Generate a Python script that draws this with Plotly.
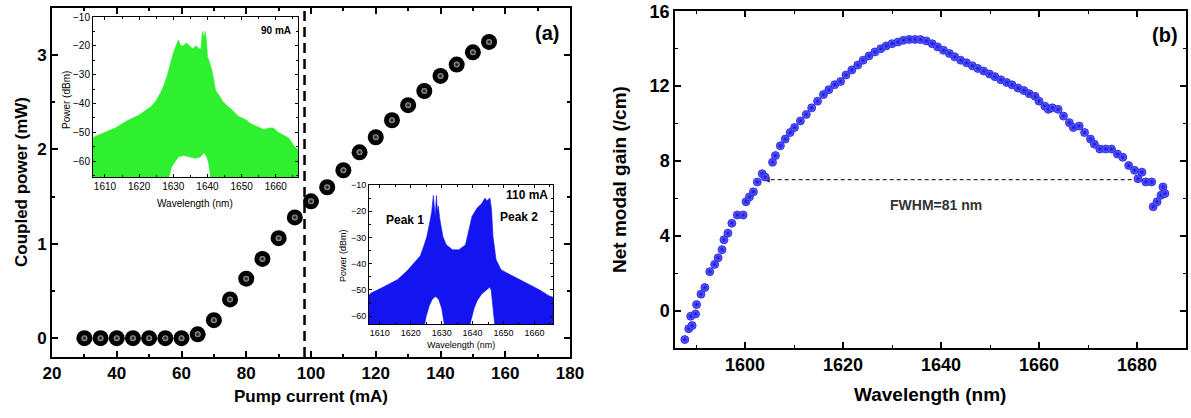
import plotly.graph_objects as go

FONT = "Liberation Sans, Arial, sans-serif"
W, H = 1191, 418

# ---------------- data: panel (a) main ----------------
pump_current = [30, 35, 40, 45, 50, 55, 60, 65, 70, 75, 80, 85, 90, 95, 100,
                105, 110, 115, 120, 125, 130, 135, 140, 145, 150, 155]
coupled_power = [0, 0, 0, 0, 0, 0, 0, 0.04, 0.19, 0.41, 0.63, 0.84, 1.06, 1.28,
                 1.45, 1.60, 1.78, 1.97, 2.13, 2.31, 2.47, 2.62, 2.78, 2.90, 3.03, 3.14]
threshold_current = 98

# ---------------- data: inset 90 mA (green spectrum envelopes) ----------------
green_wl_upper = [1606.5, 1607, 1610, 1613, 1616.5, 1620, 1623.6, 1625, 1626.4, 1627.5,
                  1628.3, 1629.2, 1630, 1630.8, 1631.5, 1632.2, 1633, 1633.8, 1634.8, 1635.7,
                  1636.7, 1637.5, 1638.1, 1638.5, 1639, 1639.3, 1639.7, 1640, 1640.7, 1641.4,
                  1642.4, 1643.3, 1644.3, 1645.5, 1647, 1649, 1651, 1652.7, 1654.5, 1656.5,
                  1658, 1659.3, 1660.7, 1662.1, 1663.8, 1665.3, 1666.5]
green_dbm_upper = [-52, -51.5, -50, -48.5, -46, -44, -41, -39, -36, -33,
                   -30, -26, -22.5, -20, -18, -20, -20, -19, -20, -21,
                   -20, -21, -21, -15, -17, -15, -18, -23.7, -26, -29,
                   -35.6, -37, -39, -40.5, -42, -44.4, -45.5, -47, -48, -49,
                   -48.5, -48.5, -50, -50.8, -52, -54.7, -56]
green_wl_lower = [1606.5, 1628.6, 1629.5, 1630.5, 1631.5, 1633, 1635, 1636.5, 1638, 1639,
                  1639.8, 1640.4, 1641, 1666.5]
green_dbm_lower = [-70, -66, -62, -60, -58.5, -58, -58.5, -59, -58.5, -57,
                   -58.5, -61, -66, -70]

# ---------------- data: inset 110 mA (blue spectrum envelopes) ----------------
blue_wl_upper = [1606.5, 1607.2, 1611, 1615.8, 1619, 1621, 1623.1, 1624.3, 1625.2, 1626.3,
                 1626.8, 1627.3, 1627.6, 1627.9, 1628.3, 1628.6, 1628.9, 1629.4, 1630.4, 1631.5,
                 1633.5, 1635.6, 1637.7, 1638.8, 1639.8, 1641.4, 1643, 1644, 1644.6, 1645.1,
                 1645.6, 1646.1, 1646.6, 1647.6, 1649.2, 1651, 1653.4, 1657.5, 1661.7, 1664.6, 1666.5]
blue_dbm_upper = [-52, -51.2, -49, -46, -42.5, -39.8, -37, -33, -29.7, -23.3,
                  -20, -14, -20, -22, -14, -20, -18, -23, -29.7, -32.8,
                  -34.7, -34.7, -32.8, -27.7, -22, -18.9, -17, -15, -16, -15.5,
                  -15, -19, -29.7, -38.5, -42.3, -43.5, -44.9, -47.4, -50, -52.2, -53]
blue_wl_lower = [1606.5, 1624, 1625, 1626, 1627, 1628, 1629, 1630, 1630.7, 1631.2,
                 1638.5, 1639.5, 1640.5, 1641.5, 1643, 1644.5, 1645.5, 1646, 1646.5, 1647,
                 1647.4, 1666.5]
blue_dbm_lower = [-70, -66, -60, -56, -53.5, -52.5, -53.5, -57, -62, -66,
                  -66, -61, -57, -54, -51.5, -50, -49, -50, -55, -62,
                  -66, -70]

# ---------------- data: panel (b) net modal gain ----------------
gain_wl = [1587.7, 1588.5, 1589.2, 1588.9, 1589.9, 1590.1, 1591.0, 1591.8, 1592.8, 1593.8,
           1594.5, 1595.3, 1595.7, 1596.5, 1597.3, 1598.4, 1599.6, 1600.2, 1600.9, 1601.7,
           1602.5, 1603.5, 1604.1, 1605.6, 1606.2, 1607.2, 1608.2, 1609.2, 1610.1, 1611.3,
           1612.5, 1613.6, 1614.8, 1616.0, 1617.1, 1618.3, 1619.5, 1620.6, 1621.8, 1623.0,
           1624.1, 1625.3, 1626.5, 1627.7, 1628.8, 1630.0, 1631.2, 1632.3, 1633.5, 1634.7,
           1635.8, 1637.0, 1638.2, 1639.3, 1640.5, 1641.7, 1642.8, 1644.0, 1645.2, 1646.4,
           1647.5, 1648.7, 1649.9, 1651.0, 1652.2, 1653.4, 1654.5, 1655.7, 1656.9, 1658.0,
           1659.2, 1660.0, 1661.2, 1661.9, 1662.7, 1663.9, 1665.0, 1666.2, 1667.0, 1668.2,
           1669.3, 1670.5, 1671.3, 1672.4, 1673.6, 1674.8, 1676.0, 1677.1, 1678.3, 1679.5,
           1680.2, 1681.0, 1681.8, 1683.0, 1683.3, 1684.1, 1684.9, 1685.3, 1685.7]
gain_val = [-1.55, -0.97, -0.8, -0.3, -0.18, 0.32, 0.88, 1.23, 2.08, 2.47,
            2.82, 3.26, 3.79, 4.14, 4.67, 5.11, 5.11, 5.82, 6.08, 6.35,
            6.88, 7.32, 7.14, 7.93, 8.29, 8.81, 9.17, 9.52, 9.79, 10.14,
            10.49, 10.84, 11.2, 11.55, 11.81, 12.08, 12.25, 12.6, 12.87, 13.13,
            13.39, 13.62, 13.83, 14.0, 14.15, 14.27, 14.36, 14.45, 14.5, 14.5,
            14.49, 14.42, 14.27, 14.1, 13.92, 13.75, 13.57, 13.39, 13.25, 13.09,
            12.95, 12.81, 12.65, 12.51, 12.34, 12.2, 12.07, 11.9, 11.77, 11.6,
            11.46, 11.2, 10.93, 10.76, 10.84, 10.76, 10.4, 10.05, 9.79, 9.87,
            9.52, 9.17, 8.9, 8.64, 8.64, 8.64, 8.37, 8.2, 7.76, 7.5,
            7.05, 7.4, 6.88, 6.88, 5.55, 5.82, 6.17, 6.61, 6.26]
fwhm_level = 7.0
fwhm_bounds = [1603.8, 1681.3]


def px(x):
    return x / W


def py(y):
    return 1 - y / H


fig = go.Figure()

# panel (a) main points: black sphere + soft highlight
fig.add_trace(go.Scatter(
    x=pump_current, y=coupled_power, mode="markers", xaxis="x", yaxis="y",
    marker=dict(size=16, color="#000000", line=dict(width=0)),
    showlegend=False))
fig.add_trace(go.Scatter(
    x=pump_current, y=coupled_power, mode="markers", xaxis="x", yaxis="y",
    marker=dict(size=6, color="#a8a8a8", gradient=dict(type="radial", color="#000000"),
                line=dict(width=0)),
    showlegend=False, hoverinfo="skip"))

# inset 90 mA (green)
GREEN = "#2ef02e"
fig.add_trace(go.Scatter(x=green_wl_lower, y=green_dbm_lower, mode="lines", xaxis="x3", yaxis="y3",
                         line=dict(color=GREEN, width=0.6), showlegend=False))
fig.add_trace(go.Scatter(x=green_wl_upper, y=green_dbm_upper, mode="lines", xaxis="x3", yaxis="y3",
                         line=dict(color=GREEN, width=0.6), fill="tonexty", fillcolor=GREEN,
                         showlegend=False))

# inset 110 mA (blue)
BLUE = "#1414f0"
fig.add_trace(go.Scatter(x=blue_wl_lower, y=blue_dbm_lower, mode="lines", xaxis="x4", yaxis="y4",
                         line=dict(color=BLUE, width=0.6), showlegend=False))
fig.add_trace(go.Scatter(x=blue_wl_upper, y=blue_dbm_upper, mode="lines", xaxis="x4", yaxis="y4",
                         line=dict(color=BLUE, width=0.6), fill="tonexty", fillcolor=BLUE,
                         showlegend=False))

# panel (b) FWHM line
fig.add_trace(go.Scatter(
    x=fwhm_bounds, y=[fwhm_level, fwhm_level], mode="lines+markers", xaxis="x2", yaxis="y2",
    line=dict(color="#333333", width=1.3, dash="4px,3px"),
    marker=dict(symbol=["arrow-left", "arrow-right"], size=6, color="#222222"),
    showlegend=False))

# panel (b) gain points
fig.add_trace(go.Scatter(
    x=gain_wl, y=gain_val, mode="markers", xaxis="x2", yaxis="y2",
    marker=dict(size=8, color="#6e6eff", gradient=dict(type="radial", color="#1010e0"),
                line=dict(width=0.8, color="#1a1ad8")),
    showlegend=False))

ax_common = dict(showline=True, linewidth=2, linecolor="black", mirror="ticks",
                 ticks="inside", tickcolor="black", showgrid=False, zeroline=False,
                 automargin=False, ticklabeloverflow="allow")

fig.update_layout(
    width=W, height=H, margin=dict(l=0, r=0, t=0, b=0),
    paper_bgcolor="white", plot_bgcolor="rgba(0,0,0,0)",
    font=dict(family=FONT, color="black"),
    xaxis=dict(domain=[px(52), px(570)], range=[20, 180], anchor="y", dtick=20, tick0=0,
               ticklen=6, tickwidth=2,
               minor=dict(ticks="inside", dtick=10, ticklen=3, tickwidth=1.5, tickcolor="black"),
               tickfont=dict(size=17, weight="bold", family=FONT), **ax_common),
    yaxis=dict(domain=[py(357), py(8)], range=[-0.2, 3.5], anchor="x", dtick=1, tick0=0,
               ticklen=6, tickwidth=2,
               minor=dict(ticks="inside", dtick=0.5, ticklen=3, tickwidth=1.5, tickcolor="black"),
               tickfont=dict(size=17, weight="bold", family=FONT), **ax_common),
    xaxis2=dict(domain=[px(675), px(1186)], range=[1585.7, 1690], anchor="y2", dtick=20, tick0=0,
                ticklen=6, tickwidth=1.5,
                minor=dict(ticks="inside", dtick=10, ticklen=3, tickwidth=1, tickcolor="black"),
                tickfont=dict(size=18, weight="bold", family=FONT),
                **{**ax_common, "linewidth": 1.5}),
    yaxis2=dict(domain=[py(348), py(11)], range=[-2, 16.02], anchor="x2", dtick=4, tick0=0,
                ticklen=6, tickwidth=1.5,
                minor=dict(ticks="inside", dtick=2, ticklen=3, tickwidth=1, tickcolor="black"),
                tickfont=dict(size=18, weight="bold", family=FONT),
                **{**ax_common, "linewidth": 1.5}),
    xaxis3=dict(domain=[px(93), px(298)], range=[1606.5, 1666.5], anchor="y3", dtick=10, tick0=0,
                ticklen=3, tickwidth=1,
                minor=dict(ticks="inside", dtick=5, ticklen=2, tickwidth=1, tickcolor="black"),
                tickfont=dict(size=10, family=FONT),
                **{**ax_common, "linewidth": 1}),
    yaxis3=dict(domain=[py(177), py(17)], range=[-65.5, -10], anchor="x3", dtick=10, tick0=0,
                ticklen=3, tickwidth=1,
                minor=dict(ticks="inside", dtick=5, ticklen=2, tickwidth=1, tickcolor="black"),
                tickfont=dict(size=10, family=FONT),
                **{**ax_common, "linewidth": 1}),
    xaxis4=dict(domain=[px(369), px(553)], range=[1606.5, 1666], anchor="y4", dtick=10, tick0=0,
                ticklen=3, tickwidth=1,
                minor=dict(ticks="inside", dtick=5, ticklen=2, tickwidth=1, tickcolor="black"),
                tickfont=dict(size=9, family=FONT),
                **{**ax_common, "linewidth": 1}),
    yaxis4=dict(domain=[py(324), py(185)], range=[-63, -10], anchor="x4", dtick=10, tick0=0,
                ticklen=3, tickwidth=1,
                minor=dict(ticks="inside", dtick=5, ticklen=2, tickwidth=1, tickcolor="black"),
                tickfont=dict(size=9, family=FONT),
                **{**ax_common, "linewidth": 1}),
)

# threshold dashed line in panel (a)
fig.add_shape(type="line", xref="x", yref="y domain", x0=threshold_current, x1=threshold_current,
              y0=0, y1=1, line=dict(color="black", width=2.5, dash="10px,6px"), layer="above")

bold = dict(family=FONT, weight="bold", color="black")
ann = [
    # axis titles
    dict(text="Coupled power (mW)", x=px(22), y=py(182), textangle=-90, font=dict(size=17, **bold)),
    dict(text="Pump current (mA)", x=px(311), y=py(396), font=dict(size=17, **bold)),
    dict(text="Net modal gain (/cm)", x=px(619), y=py(180), textangle=-90, font=dict(size=19, **bold)),
    dict(text="Wavelength (nm)", x=px(930), y=py(394), font=dict(size=19, **bold)),
    # panel labels
    dict(text="(a)", x=px(547), y=py(33), font=dict(size=20, **bold)),
    dict(text="(b)", x=px(1165), y=py(35), font=dict(size=20, **bold)),
    # inset labels
    dict(text="90 mA", x=px(276), y=py(30), font=dict(size=10, **bold)),
    dict(text="Power (dBm)", x=px(66), y=py(100), textangle=-90, font=dict(size=10, family=FONT, color="black")),
    dict(text="Wavelength (nm)", x=px(195), y=py(203), font=dict(size=10, family=FONT, color="black")),
    dict(text="110 mA", x=px(527), y=py(195), font=dict(size=12, **bold)),
    dict(text="Peak 1", x=px(405), y=py(220), font=dict(size=12, **bold)),
    dict(text="Peak 2", x=px(519), y=py(217), font=dict(size=12, **bold)),
    dict(text="Power (dBm)", x=px(343), y=py(256), textangle=-90, font=dict(size=9, family=FONT, color="black")),
    dict(text="Wavelength (nm)", x=px(461), y=py(345), font=dict(size=9, family=FONT, color="black")),
]
for a in ann:
    fig.add_annotation(xref="paper", yref="paper", showarrow=False,
                       xanchor="center", yanchor="middle", **a)

fig.add_annotation(text="FWHM=81 nm", xref="x2", yref="y2", x=1638.9, y=5.64, showarrow=False,
                   font=dict(size=14, family=FONT, weight="bold", color="#333333"))

fig.write_html("out.html")
